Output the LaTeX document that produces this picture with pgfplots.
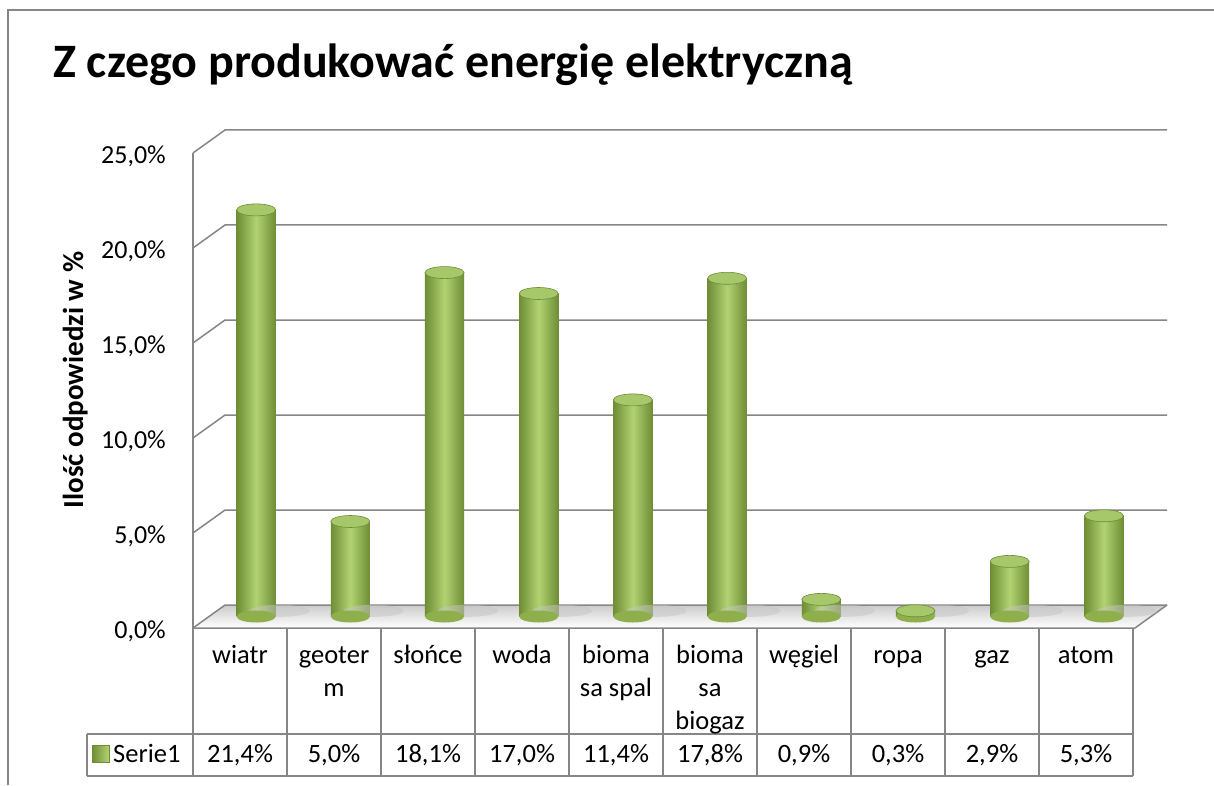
\documentclass[border=0pt]{standalone}
\usepackage{pgfplots}
\pgfplotsset{compat=1.18}
\usepackage{fontspec}
\setmainfont{Carlito}
\definecolor{frameGray}{HTML}{868686}
\definecolor{cylD}{HTML}{6E8D35}
\definecolor{cylL}{HTML}{B2D272}
\definecolor{cylM}{HTML}{8FAF4C}
\definecolor{cylTop}{HTML}{A6C76A}
\pgfdeclareplotmark{cyltop}{\pgfpathellipse{\pgfpointorigin}{\pgfqpoint{19.5pt}{0pt}}{\pgfqpoint{0pt}{6pt}}\pgfusepathqfillstroke}
\pgfdeclareplotmark{cylbase}{\pgfpathellipse{\pgfpointorigin}{\pgfqpoint{19.5pt}{0pt}}{\pgfqpoint{0pt}{6pt}}\pgfusepathqfill}
\pgfdeclareplotmark{cylshadow}{\pgfpathellipse{\pgfpointorigin}{\pgfqpoint{30pt}{0pt}}{\pgfqpoint{0pt}{6pt}}\pgfusepathqfill}
\pgfplotsset{cyl/.style={ybar, bar width=0.415, draw=none, left color=cylD, right color=cylD, middle color=cylL, forget plot}}
\begin{document}
\begin{tikzpicture}
\path[use as bounding box] (0,0) rectangle (1214pt,785pt);
\fill[white] (0,0) rectangle (1214pt,785pt);
% outer frame
\draw[frameGray, line width=1.8pt] (8pt,0pt) -- (8pt,775pt) -- (1214pt,775pt);
% title
\node[anchor=base west, inner sep=0pt, font=\bfseries\fontsize{48}{54}\selectfont] at (53pt,707pt) {Z czego produkować energię elektryczną};
\begin{axis}[
  at={(193pt,157pt)}, anchor=south west,
  scale only axis, width=974pt, height=498pt,
  xmin=-0.67, xmax=9.67, ymin=-0.605, ymax=25.605,
  clip=false,
  axis line style={draw=none},
  major tick length=0pt,
  xtick=\empty,
  ytick={0,5,10,15,20,25},
  yticklabels={{0,0\%},{5,0\%},{10,0\%},{15,0\%},{20,0\%},{25,0\%}},
  yticklabel style={anchor=east, inner sep=0pt, xshift=-27pt, yshift=-15pt, font=\fontsize{26}{31}\selectfont},
  ylabel={\textbf{Ilość odpowiedzi w \%}},
  ylabel style={at={(axis description cs:-0.121,0.498)}, anchor=center, font=\fontsize{29}{33}\selectfont},
]
% floor
\fill[top color=gray!40, bottom color=white] (axis cs:-0.67,-0.605) -- (axis cs:9.33,-0.605) -- (axis cs:9.67,0.605) -- (axis cs:-0.33,0.605) -- cycle;
% walls / gridlines
\draw[frameGray, line width=1.5pt] (axis cs:-0.67,-0.605) -- (axis cs:-0.33,0.605) -- (axis cs:9.67,0.605);
\draw[frameGray, line width=1.5pt] (axis cs:-0.67,4.395) -- (axis cs:-0.33,5.605) -- (axis cs:9.67,5.605);
\draw[frameGray, line width=1.5pt] (axis cs:-0.67,9.395) -- (axis cs:-0.33,10.605) -- (axis cs:9.67,10.605);
\draw[frameGray, line width=1.5pt] (axis cs:-0.67,14.395) -- (axis cs:-0.33,15.605) -- (axis cs:9.67,15.605);
\draw[frameGray, line width=1.5pt] (axis cs:-0.67,19.395) -- (axis cs:-0.33,20.605) -- (axis cs:9.67,20.605);
\draw[frameGray, line width=1.5pt] (axis cs:-0.67,24.395) -- (axis cs:-0.33,25.605) -- (axis cs:9.67,25.605);
\draw[frameGray, line width=1.5pt] (axis cs:-0.67,-0.605) -- (axis cs:-0.67,24.395);
\draw[frameGray, line width=1.5pt] (axis cs:-0.67,-0.605) -- (axis cs:9.33,-0.605) -- (axis cs:9.67,0.605);
% shadows
\addplot[only marks, mark=cylshadow, mark options={draw=none, fill=gray!45, fill opacity=0.5}] coordinates {
(0.25,0.3) (1.25,0.3) (2.25,0.3) (3.25,0.3) (4.25,0.3) (5.25,0.3) (6.25,0.3) (7.25,0.3) (8.25,0.3) (9.25,0.3)};
% cylinder bases
\addplot[only marks, mark=cylbase, mark options={draw=none, fill=cylM}] coordinates {
(0,0) (1,0) (2,0) (3,0) (4,0) (5,0) (6,0) (7,0) (8,0) (9,0)};
% cylinder bodies (one plot per bar so each gets its own shading)
\addplot[cyl] coordinates {(0,21.4)};
\addplot[cyl] coordinates {(1,5.0)};
\addplot[cyl] coordinates {(2,18.1)};
\addplot[cyl] coordinates {(3,17.0)};
\addplot[cyl] coordinates {(4,11.4)};
\addplot[cyl] coordinates {(5,17.8)};
\addplot[cyl] coordinates {(6,0.9)};
\addplot[cyl] coordinates {(7,0.3)};
\addplot[cyl] coordinates {(8,2.9)};
\addplot[cyl] coordinates {(9,5.3)};
% cylinder tops
\addplot[only marks, mark=cyltop, mark options={draw=cylD, fill=cylTop, line width=0.6pt}] coordinates {
(0,21.4) (1,5.0) (2,18.1) (3,17.0) (4,11.4) (5,17.8) (6,0.9) (7,0.3) (8,2.9) (9,5.3)};
\end{axis}
% data table
\foreach \k in {0,...,10} {
  \draw[frameGray, line width=1.5pt] (193pt+\k*94pt,157pt) -- (193pt+\k*94pt,9pt);
}
\draw[frameGray, line width=1.5pt] (87pt,51pt) -- (1133pt,51pt);
\draw[frameGray, line width=1.5pt] (87pt,9pt) -- (1133pt,9pt);
\draw[frameGray, line width=1.5pt] (87pt,51pt) -- (87pt,9pt);
% legend key
\shade[left color=cylD, right color=cylL, draw=cylD, line width=0.6pt] (92pt,23pt) rectangle (109pt,40pt);
\begin{scope}[every node/.style={inner sep=0pt, anchor=base, font=\fontsize{26.5}{33}\selectfont}]
\node[anchor=base west] at (113pt,23pt) {Serie1};
\node at (240pt,122pt) {wiatr};
\node at (334pt,122pt) {geoter};
\node at (334pt,89pt) {m};
\node at (428pt,122pt) {słońce};
\node at (522pt,122pt) {woda};
\node at (616pt,122pt) {bioma};
\node at (616pt,89pt) {sa spal};
\node at (710pt,122pt) {bioma};
\node at (710pt,89pt) {sa};
\node at (710pt,56pt) {biogaz};
\node at (804pt,122pt) {węgiel};
\node at (898pt,122pt) {ropa};
\node at (992pt,122pt) {gaz};
\node at (1086pt,122pt) {atom};
\node at (240pt,23pt) {21,4\%};
\node at (334pt,23pt) {5,0\%};
\node at (428pt,23pt) {18,1\%};
\node at (522pt,23pt) {17,0\%};
\node at (616pt,23pt) {11,4\%};
\node at (710pt,23pt) {17,8\%};
\node at (804pt,23pt) {0,9\%};
\node at (898pt,23pt) {0,3\%};
\node at (992pt,23pt) {2,9\%};
\node at (1086pt,23pt) {5,3\%};
\end{scope}
\end{tikzpicture}
\end{document}
